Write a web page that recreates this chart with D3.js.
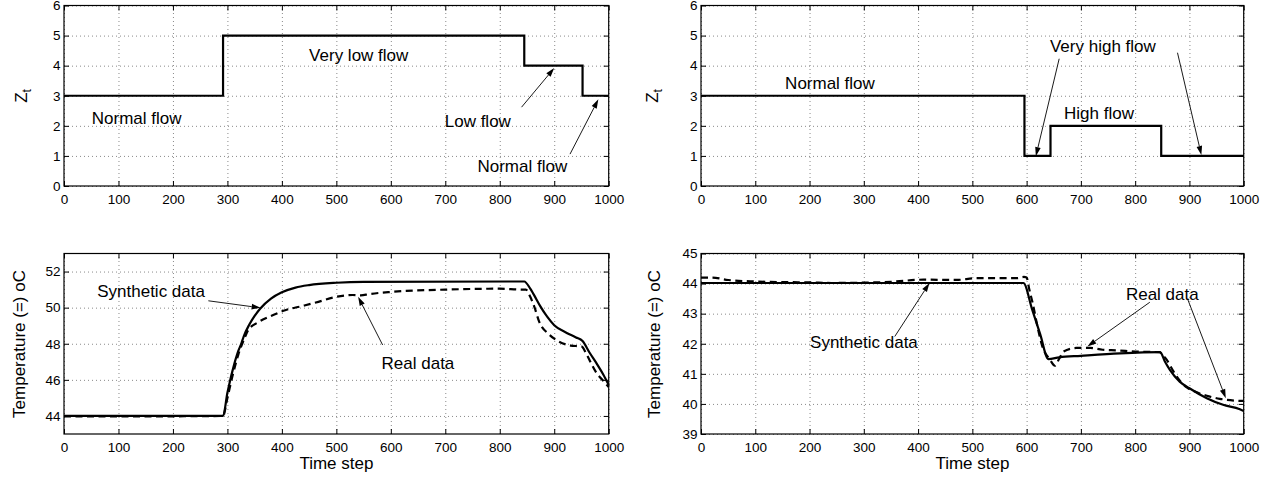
<!DOCTYPE html>
<html><head><meta charset="utf-8">
<script src="https://cdn.jsdelivr.net/npm/d3@7"></script>
<style>
body{margin:0;background:#fff;}
svg{display:block;font-family:"Liberation Sans",Arial,Helvetica,sans-serif;}
</style></head>
<body><svg id="c" width="1277" height="478"></svg>
<script>
// ---------- data ----------
const xTicks = [0,100,200,300,400,500,600,700,800,900,1000];
const zTicks = [0,1,2,3,4,5,6];
const tempTicksA = [44,46,48,50,52];
const tempTicksB = [39,40,41,42,43,44,45];

// regime (Z_t) step changes
const stepTimesA  = [0, 292, 845, 952, 1000];
const stepLevelsA = [3, 5, 4, 3, 3];
const stepTimesB  = [0, 596, 644, 848, 1000];
const stepLevelsB = [3, 1, 2, 1, 1];

// temperature, case A
const synTimeA = [0,292,300,305,310,320,326,330,340,350,360,380,400,425,450,500,550,845,856,862,874,887,900,923,940,952,965,978,990,1000];
const synValA  = [44.0,44.0,45.28,45.97,46.58,47.6,48.05,48.41,49.05,49.54,49.94,50.5,50.85,51.11,51.25,51.38,51.43,51.45,51.05,50.75,50.1,49.5,49.03,48.6,48.35,48.15,47.5,46.9,46.3,45.72];
const realTimeA = [0,100,200,292,300,310,320,330,338,357,384,406,436,467,494,530,545,560,600,700,800,840,848,856,864,872,890,908,930,950,958,968,978,990,1000];
const realValA  = [43.98,43.97,43.98,44.0,45.0,46.3,47.4,48.2,48.75,49.2,49.59,49.86,50.08,50.32,50.56,50.7,50.68,50.75,50.87,51.0,51.05,51.0,51.0,50.6,50.0,49.25,48.53,48.13,47.9,47.85,47.5,46.9,46.36,45.95,45.6];

// temperature, case B
const synTimeB = [0,594,610,625,640,660,700,772,846,855,864,882,900,932,962,993,1000];
const synValB  = [44.02,44.02,43.15,42.32,41.49,41.55,41.6,41.68,41.72,41.4,41.13,40.74,40.52,40.19,39.97,39.82,39.76];
const realTimeB = [0,20,50,100,150,200,240,300,350,410,470,508,582,595,600,605,611,622,628,643,652,660,668,692,717,740,766,800,845,850,858,870,882,895,910,932,956,984,1000];
const realValB  = [44.2,44.2,44.12,44.07,44.05,44.04,44.02,44.03,44.06,44.13,44.12,44.18,44.18,44.22,44.2,43.8,43.36,42.41,41.97,41.47,41.27,41.5,41.74,41.86,41.86,41.8,41.78,41.74,41.72,41.63,41.47,41.1,40.78,40.55,40.41,40.27,40.17,40.11,40.1];

// annotations: [text, x, y] and arrows [x1,y1,x2,y2] in data units
const annTL = [["Very low flow",450,4.14],["Normal flow",51,2.05],["Low flow",699,1.97],["Normal flow",759,0.45]];
const arrTL = [[840,2.62,900,3.92],[929,1.06,981,2.88]];
const annTR = [["Normal flow",155,3.24],["Very high flow",643,4.45],["High flow",669,2.22]];
const arrTR = [[660,4.23,617,0.99],[878,4.43,922,1.03]];
const annBL = [["Synthetic data",61,50.6],["Real data",583,46.58]];
const arrBL = [[265,50.38,361,49.99],[585,47.93,540,50.6]];
const annBR = [["Synthetic data",201,41.86],["Real data",783,43.47]];
const arrBR = [[357,42.24,421,44.02],[827,43.38,712,41.91],[897,43.47,967,40.19]];

// ---------- drawing ----------
const svg = d3.select("#c");
const TICK_FS = 13.5, LAB_FS = 17;
const fmt = d3.format("d");

function panel(opt){
  const g = svg.append("g");
  const x = d3.scaleLinear().domain([0,1000]).range([opt.left,opt.right]);
  const y = d3.scaleLinear().domain(opt.yDomain).range([opt.bottom,opt.top]);
  const W = opt.right-opt.left, H = opt.bottom-opt.top;
  // grid
  const gx = g.append("g").attr("transform",`translate(0,${opt.bottom})`)
    .call(d3.axisBottom(x).tickValues(xTicks).tickSize(-H).tickFormat(""));
  const gy = g.append("g").attr("transform",`translate(${opt.left},0)`)
    .call(d3.axisLeft(y).tickValues(opt.yTicks).tickSize(-W).tickFormat(""));
  [gx,gy].forEach(s=>{ s.select(".domain").remove();
    s.selectAll("line").attr("stroke","#8a8a8a").attr("stroke-width",1).attr("stroke-dasharray","1,3"); });
  // axes with inward ticks
  const ab = g.append("g").attr("transform",`translate(0,${opt.bottom})`)
    .call(d3.axisBottom(x).tickValues(xTicks).tickSize(-5).tickSizeOuter(0).tickPadding(8).tickFormat(fmt));
  const at = g.append("g").attr("transform",`translate(0,${opt.top})`)
    .call(d3.axisTop(x).tickValues(xTicks).tickSize(-5).tickSizeOuter(0).tickFormat(""));
  const al = g.append("g").attr("transform",`translate(${opt.left},0)`)
    .call(d3.axisLeft(y).tickValues(opt.yTicks).tickSize(-5).tickSizeOuter(0).tickPadding(3.5).tickFormat(fmt));
  const ar = g.append("g").attr("transform",`translate(${opt.right},0)`)
    .call(d3.axisRight(y).tickValues(opt.yTicks).tickSize(-5).tickSizeOuter(0).tickFormat(""));
  [ab,at,al,ar].forEach(s=>{ s.select(".domain").remove();
    s.selectAll("line").attr("stroke","#000").attr("stroke-width",1);
    s.selectAll("text").attr("fill","#000").style("font-size",TICK_FS+"px")
      .style("font-family",'"Liberation Sans",Arial,sans-serif'); });
  g.append("rect").attr("x",opt.left).attr("y",opt.top).attr("width",W).attr("height",H)
    .attr("fill","none").attr("stroke","#000").attr("stroke-width",1.2);
  return {g,x,y,opt};
}

function arrows(p,list){
  list.forEach(a=>{
    const x1=p.x(a[0]),y1=p.y(a[1]),x2=p.x(a[2]),y2=p.y(a[3]);
    const ang=Math.atan2(y2-y1,x2-x1), L=9, Wd=2.8;
    const bx=x2-L*Math.cos(ang), by=y2-L*Math.sin(ang);
    p.g.append("line").attr("x1",x1).attr("y1",y1).attr("x2",bx).attr("y2",by)
      .attr("stroke","#000").attr("stroke-width",0.9);
    const px=-Math.sin(ang), py=Math.cos(ang);
    p.g.append("path").attr("d",`M${x2},${y2}L${bx+px*Wd},${by+py*Wd}L${bx-px*Wd},${by-py*Wd}Z`)
      .attr("fill","#000");
  });
}
function labels(p,list){
  list.forEach(a=>{
    p.g.append("text").attr("x",p.x(a[1])).attr("y",p.y(a[2])).text(a[0])
      .style("font-size",LAB_FS+"px").attr("fill","#000");
  });
}
function stepLine(p,times,levels){
  const pts = times.map((t,i)=>[t,levels[i]]);
  p.g.append("path").datum(pts)
    .attr("d",d3.line().x(d=>p.x(d[0])).y(d=>p.y(d[1])).curve(d3.curveStepAfter))
    .attr("fill","none").attr("stroke","#000").attr("stroke-width",2.2);
}
function curve(p,times,vals,dashed){
  const pts = times.map((t,i)=>[t,vals[i]]);
  p.g.append("path").datum(pts)
    .attr("d",d3.line().x(d=>p.x(d[0])).y(d=>p.y(d[1])).curve(d3.curveMonotoneX))
    .attr("fill","none").attr("stroke","#000").attr("stroke-width",2.2)
    .attr("stroke-dasharray",dashed?"7,4.5":null);
}
function ylabel(x,cy,main,sub){
  const t = svg.append("text").attr("transform",`translate(${x},${cy}) rotate(-90)`)
    .attr("text-anchor","middle").style("font-size",LAB_FS+"px").attr("fill","#000");
  t.append("tspan").text(main);
  if(sub){ t.append("tspan").attr("dy",4).style("font-size","12px").text(sub); }
}
function xlabel(cx,y,txt){
  svg.append("text").attr("x",cx).attr("y",y).attr("text-anchor","middle")
    .style("font-size",LAB_FS+"px").attr("fill","#000").text(txt);
}

const TL = panel({left:64,right:608.7,top:5.5,bottom:186,yDomain:[0,6],yTicks:zTicks});
const TR = panel({left:701,right:1243.7,top:5.5,bottom:186,yDomain:[0,6],yTicks:zTicks});
const BL = panel({left:64,right:608.7,top:253.5,bottom:434,yDomain:[43,53],yTicks:tempTicksA});
const BR = panel({left:701,right:1243.7,top:253.5,bottom:434,yDomain:[39,45],yTicks:tempTicksB});

stepLine(TL,stepTimesA,stepLevelsA);
stepLine(TR,stepTimesB,stepLevelsB);
curve(BL,realTimeA,realValA,true);
curve(BL,synTimeA,synValA,false);
curve(BR,realTimeB,realValB,true);
curve(BR,synTimeB,synValB,false);

labels(TL,annTL); arrows(TL,arrTL);
labels(TR,annTR); arrows(TR,arrTR);
labels(BL,annBL); arrows(BL,arrBL);
labels(BR,annBR); arrows(BR,arrBR);

ylabel(27,96,"Z","t");
ylabel(658,96,"Z","t");
ylabel(25,344,"Temperature (=) oC");
ylabel(660,344,"Temperature (=) oC");
xlabel(336.4,469,"Time step");
xlabel(972.4,469,"Time step");
</script></body></html>
